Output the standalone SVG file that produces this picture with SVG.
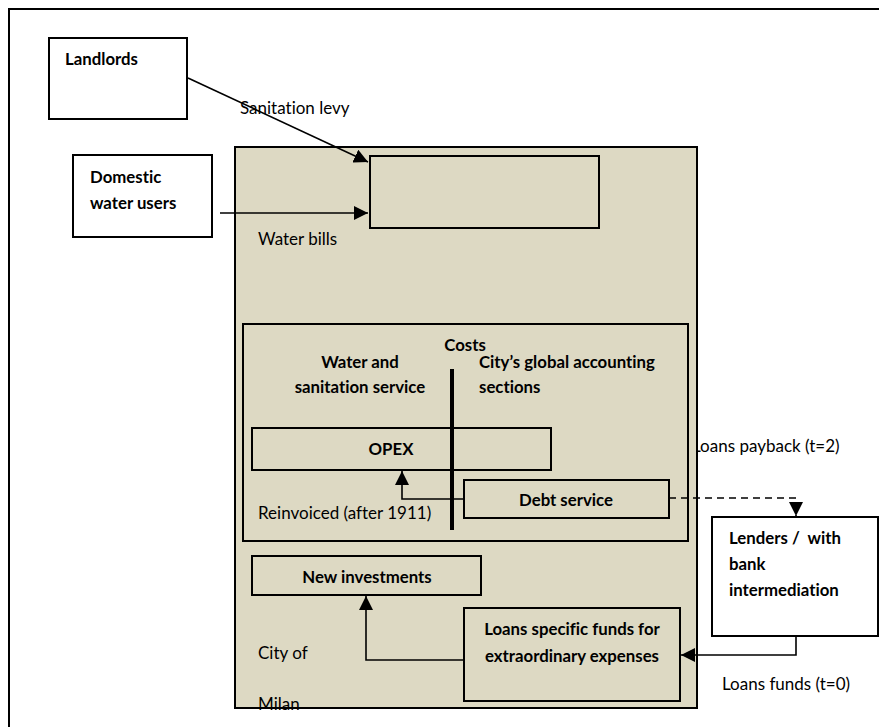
<svg xmlns="http://www.w3.org/2000/svg" width="879" height="727" viewBox="0 0 879 727">
  <defs>
    <marker id="arrowBig" viewBox="0 0 10 10" refX="10" refY="5" markerWidth="14" markerHeight="14" markerUnits="userSpaceOnUse" orient="auto">
      <path d="M0,0 L10,5 L0,10 Z" fill="#000"/>
    </marker>
  </defs>
  <style>
    .frame { fill: none; stroke: #000; stroke-width: 2; }
    .box { fill: #fff; stroke: #000; stroke-width: 2; }
    .tan { fill: #DDD9C3; stroke: #000; stroke-width: 2; }
    .inner { fill: none; stroke: #000; stroke-width: 2; }
    .wire { fill: none; stroke: #000; stroke-width: 1.6; }
    .dash { fill: none; stroke: #000; stroke-width: 1.6; stroke-dasharray: 7 5; }
    text { font-family: Lato, "Liberation Sans", Arial, sans-serif; fill: #000; white-space: pre; font-variant-ligatures: none; }
    .b { font-weight: bold; font-size: 16.8px; }
    .r { font-size: 17px; }
    .c { text-anchor: middle; }
  </style>

  <rect width="879" height="727" fill="#fff"/>
  <!-- page frame (open to the right and bottom) -->
  <path class="frame" d="M9,727 V9 H879"/>

  <!-- label partly hidden behind the city block -->
  <text class="r" x="692" y="452">Loans payback (t=2)</text>

  <g id="city-of-milan">
    <rect class="tan" x="235" y="147" width="462" height="561"/>
    <text class="r" x="258" y="245">Water bills</text>
    <text class="r" x="258" y="659">City of</text>
    <text class="r" x="258" y="710">Milan</text>
  </g>

  <g id="revenue-box">
    <rect class="inner" x="370" y="156" width="229" height="72"/>
  </g>

  <g id="costs">
    <rect class="inner" x="243" y="324" width="445" height="217"/>
    <text class="b c" x="465" y="351">Costs</text>
    <text class="b c" x="360" y="368">Water and</text>
    <text class="b c" x="360" y="393">sanitation service</text>
    <text class="b" x="479" y="368">City’s global accounting</text>
    <text class="b" x="479" y="393">sections</text>
    <text class="r" x="258" y="519">Reinvoiced (after 1911)</text>
  </g>

  <g id="opex">
    <rect class="inner" x="252" y="428" width="299" height="42"/>
    <text class="b c" x="391" y="455">OPEX</text>
  </g>

  <!-- divider between the two accounting sections -->
  <line x1="452" y1="369" x2="452" y2="530" stroke="#000" stroke-width="4"/>

  <g id="debt-service">
    <rect class="inner" x="464" y="480" width="205" height="38"/>
    <text class="b c" x="566" y="506">Debt service</text>
  </g>

  <g id="new-investments">
    <rect class="inner" x="252" y="556" width="229" height="39"/>
    <text class="b c" x="367" y="583">New investments</text>
  </g>

  <g id="loans-funds">
    <rect class="inner" x="464" y="608" width="216" height="93"/>
    <text class="b c" x="572" y="635">Loans specific funds for</text>
    <text class="b c" x="572" y="662">extraordinary expenses</text>
  </g>

  <g id="landlords">
    <rect class="box" x="49" y="38" width="138" height="81"/>
    <text class="b" x="65" y="65">Landlords</text>
  </g>

  <g id="domestic-users">
    <rect class="box" x="73" y="155" width="139" height="82"/>
    <text class="b" x="90" y="183">Domestic</text>
    <text class="b" x="90" y="209">water users</text>
  </g>

  <g id="lenders">
    <rect class="box" x="712" y="517" width="166" height="119"/>
    <text class="b" x="729" y="544">Lenders /  with</text>
    <text class="b" x="729" y="570">bank</text>
    <text class="b" x="729" y="596">intermediation</text>
  </g>

  <g id="connectors">
    <line class="wire" x1="188" y1="78" x2="368" y2="162" marker-end="url(#arrowBig)"/>
    <line class="wire" x1="220" y1="213" x2="368" y2="213" marker-end="url(#arrowBig)"/>
    <polyline class="wire" points="464,499 402,499 402,471" marker-end="url(#arrowBig)"/>
    <polyline class="dash" points="669,498 796,498 796,516" marker-end="url(#arrowBig)"/>
    <polyline class="wire" points="796,636 796,655 681,655" marker-end="url(#arrowBig)"/>
    <polyline class="wire" points="464,660 366,660 366,596" marker-end="url(#arrowBig)"/>
    <text class="r" x="240" y="114">Sanitation levy</text>
    <text class="r" x="722" y="690">Loans funds (t=0)</text>
  </g>
</svg>
